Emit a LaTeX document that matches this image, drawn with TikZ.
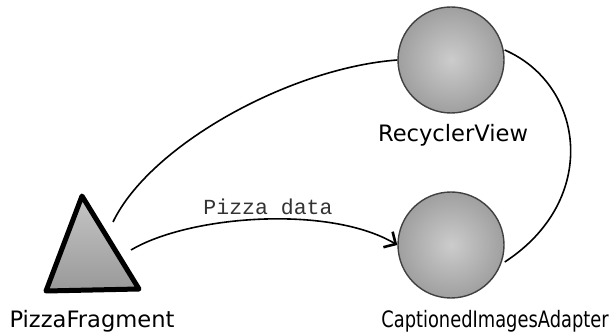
\documentclass[tikz,border=0pt]{standalone}
\usepackage{graphicx}
\usepackage{fontspec}
\setmainfont{DejaVu Sans}
\newfontfamily\monof{Liberation Mono}
\usetikzlibrary{arrows.meta}
\tikzset{
  comp/.style={circle, minimum size=106pt, inner sep=0pt, draw=gray!50!black, line width=1.4pt,
    inner color=gray!40, outer color=gray!75},
  lbl/.style={font=\fontsize{22.6}{24}\selectfont, inner sep=0pt, anchor=base},
  link/.style={line width=1.6pt, black},
  flow/.style={link, -{Straight Barb[length=9pt,width=18pt,line width=2.6pt]}}
}
\begin{document}
\begin{tikzpicture}[x=1pt,y=-1pt]
\useasboundingbox (0,0) rectangle (612,336);
% components
\node[comp] (rv) at (451,60) {};
\node[comp] (ca) at (451,245) {};
\node[lbl] (rvl) at (453,142) {RecyclerView};
\node[lbl] (cal) at (495,327) {\scalebox{0.79}[1]{CaptionedImagesAdapter}};
% triangle
\coordinate (ta) at (82,196);
\coordinate (tl) at (46,291);
\coordinate (tr) at (139,289);
\fill[gray!60, top color=gray!45, bottom color=gray!80] (ta) -- (tr) -- (tl) -- cycle;
\draw[line width=5pt, line join=round, line cap=round] (ta) -- (tr) -- (tl) -- cycle;
\node[lbl] (pf) at (92,327) {PizzaFragment};
\coordinate (t1) at (113,222);
\coordinate (t2) at (131,250);
% connectors
\draw[link] (t1) .. controls (150,145) and (290,68) .. (rv.west);
\draw[flow] (t2) .. controls (190,215) and (330,205) .. (ca.west);
\coordinate (r1) at ([yshift=10pt]rv.east);
\coordinate (c1) at ([yshift=-17pt]ca.east);
\draw[link] (r1) .. controls (585,85) and (600,200) .. (c1);
\node[font=\monof\fontsize{21.5}{23}\selectfont, text=black!80, inner sep=0pt] (pd) at (268,207) {Pizza data};
\end{tikzpicture}
\end{document}
